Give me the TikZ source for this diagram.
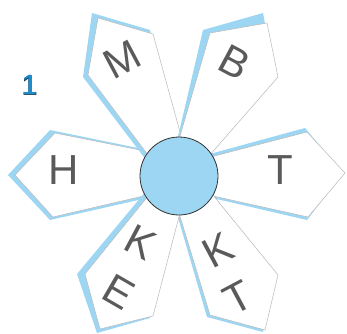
\documentclass[tikz,border=0pt]{standalone}
\usepackage{fontspec}
\setmainfont{Liberation Sans}
\newfontfamily\outlinefont[FakeBold=2.5]{Liberation Sans}
\definecolor{petalblue}{HTML}{9DD6F3}
\definecolor{lettergray}{HTML}{5A5A5A}
\definecolor{edgegray}{HTML}{B8B8B8}
\definecolor{numblue}{HTML}{1F8CCB}
\definecolor{numdark}{HTML}{1B3B52}
\begin{document}
\begin{tikzpicture}[x=1pt,y=-1pt,
  shadowfill/.style={fill=petalblue,draw=none},
  petalfill/.style={fill=white,draw=edgegray,line width=0.5pt,line join=miter},
  letter/.style={text=lettergray,font=\fontsize{42}{42}\selectfont,inner sep=0pt},
  hubstyle/.style={circle,fill=petalblue,draw=black!80,line width=0.8pt,minimum size=78pt,inner sep=0pt}]
\useasboundingbox (0,0) rectangle (347,333);
% H petal
\fill[shadowfill] (165,153.5) -- (50,130) -- (8,175) -- (50,220) -- (165,194) -- cycle;
\draw[petalfill] (165,155) -- (55,133) -- (15,175) -- (53,217) -- (165,191) -- cycle;
% M petal
\fill[shadowfill] (150,165) -- (83,77) -- (92,13) -- (150,30) -- (182,150) -- cycle;
\draw[petalfill] (155.5,165) -- (88,75) -- (98,18) -- (153,34) -- (185,150) -- cycle;
% B petal
\fill[shadowfill] (172.5,160) -- (203,30) -- (263,13) -- (275,77) -- (193,172) -- cycle;
\draw[petalfill] (173,160) -- (210,33) -- (267,23) -- (278,77) -- (195,172) -- cycle;
% T petal
\fill[shadowfill] (195,158) -- (305,128) -- (343,173) -- (307,220) -- (195,194) -- cycle;
\draw[petalfill] (195,161) -- (307,132) -- (345,173) -- (308,217) -- (195,192) -- cycle;
% KT petal
\fill[shadowfill] (170,190) -- (207,317) -- (263,332) -- (276,276) -- (194,175) -- cycle;
\draw[petalfill] (172,190) -- (210,315) -- (265,330) -- (278,275) -- (195,173) -- cycle;
% KE petal
\fill[shadowfill] (184,190) -- (150,318) -- (97,333) -- (77,274) -- (151,185) -- cycle;
\draw[petalfill] (186,190) -- (153,316) -- (100,329) -- (85,274) -- (153,190) -- cycle;
% hub
\node[hubstyle] (hub) at (179,176) {};
% letters
\node[letter, rotate=28] (lM) at (122,60) {M};
\node[letter, rotate=-28] (lB) at (235,62) {B};
\node[letter] (lH) at (64,170) {H};
\node[letter] (lT) at (280,170) {T};
\node[letter, rotate=-28] (lK1) at (141,242) {K};
\node[letter, rotate=-30] (lE) at (119,292) {E};
\node[letter, rotate=28] (lK2) at (218,250) {K};
\node[letter, rotate=28] (lT2) at (238,298) {T};
\node[text=numdark,font=\outlinefont\fontsize{28}{28}\selectfont,inner sep=0pt] (numback) at (29.5,85) {1};
\node[text=numblue,font=\fontsize{28}{28}\selectfont,inner sep=0pt] (num) at (29.5,85) {1};
\end{tikzpicture}
\end{document}
